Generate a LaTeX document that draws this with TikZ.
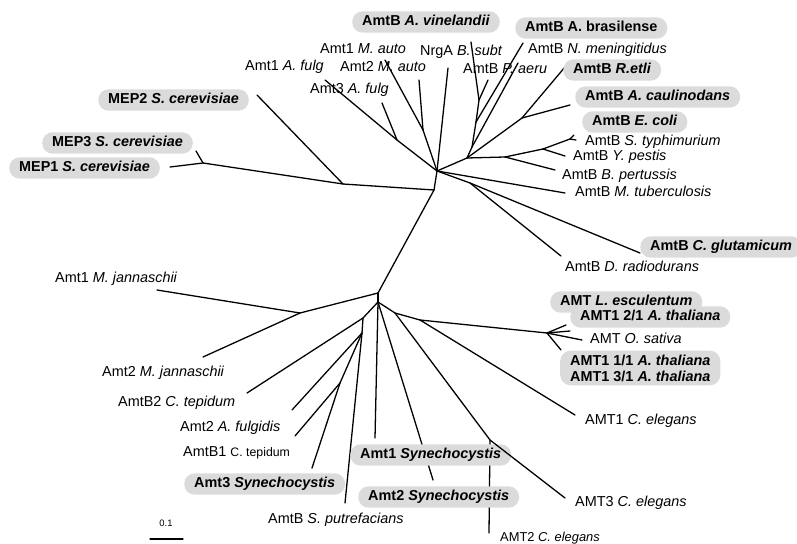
\documentclass[tikz,border=0pt]{standalone}
\usepackage{fontspec}
\setmainfont{Liberation Sans}
\tikzstyle{branch} = [draw,line width=1.1pt,line cap=round,line join=round]
\tikzstyle{leaf} = [anchor=west,inner sep=0pt,text height=9pt,text depth=2.5pt,font=\fontsize{12.3}{14}\selectfont]
\tikzstyle{boxleaf} = [leaf,fill=black!14,rounded corners=9pt,inner xsep=0.3cm,inner ysep=3.4pt,font=\fontsize{12.3}{14}\selectfont\bfseries]
\tikzstyle{boxpair} = [anchor=west,fill=black!14,rounded corners=9pt,inner xsep=0.3cm,inner ysep=3.4pt,align=left,font=\fontsize{12.3}{13.6}\selectfont\bfseries]

\begin{document}
\begin{tikzpicture}[x=0.03cm,y=-0.03cm]
    \useasboundingbox (0,0) rectangle (797,544);

    % inner nodes of the tree
    \foreach \pos/ \name in {{(434,190)/u0},{(437,171)/u1},{(343,184)/mepa},{(203,163)/mepb},{(397,140)/fulg},{(423,130)/auto},
        {(479,100)/vin},{(476,122)/bra},{(472,147)/men},{(467,158)/r1},{(522,118)/caul},{(505,157)/pert},{(543,149)/yps},
        {(570,139)/typh},{(470,183)/cglu},{(378,293)/l0},{(300,313)/jan},{(378,302)/l1},{(363,318)/l2},{(362,333)/l3},
        {(340,383)/l4},{(395,313)/l5},{(420,320)/l6},{(547,333)/plant},{(490,440)/cel}}
        \node[coordinate] (\name) at \pos {};

    % leaf tips
    \foreach \pos/ \name in {{(170,167)/tmep1},{(196,151)/tmep3},{(257,95)/tmep2},{(325,80)/tfulg1},{(382,103)/tfulg3},
        {(385,60)/tauto1},{(419,80)/tauto2},{(448,68)/tnrga},{(471,42)/tvin},{(488,80)/taeru},{(523,43)/tbra},{(518,63)/tmen},
        {(565,67)/tetli},{(570,105)/tcaul},{(574,135)/ttypha},{(576,140)/ttyphb},{(565,156)/typs},{(555,170)/tpert},
        {(565,193)/tmtub},{(640,253)/tcglu},{(561,256)/tdrad},{(157,290)/tjan1},{(203,357)/tjan2},{(247,393)/ttep2},
        {(292,410)/tfulgi},{(345,503)/tspu},{(295,436)/ttep1},{(312,468)/tsyn3},{(375,438)/tsyn1},{(433,480)/tsyn2},
        {(575,415)/tcel1},{(565,498)/tcel3},{(489,533)/tcel2},{(566,325)/tesc},{(570,331)/tth2},{(582,340)/tosa},{(561,350)/tth1}}
        \node[coordinate] (\name) at \pos {};

    % branches
    \foreach \source/ \dest in {u0/u1, u0/mepa, u0/l0, mepa/mepb, mepa/tmep2, mepb/tmep1, mepb/tmep3,
        u1/fulg, fulg/tfulg1, fulg/tfulg3, u1/auto, auto/tauto1, auto/tauto2, u1/tnrga,
        u1/r1, r1/men, men/bra, men/tmen, bra/vin, bra/tbra, vin/tvin, vin/taeru,
        r1/caul, caul/tetli, caul/tcaul, r1/pert, pert/tpert, pert/yps, yps/typs, yps/typh, typh/ttypha, typh/ttyphb,
        u1/tmtub, u1/cglu, cglu/tcglu, cglu/tdrad,
        l0/jan, jan/tjan1, jan/tjan2, l0/l1, l1/l2, l2/ttep2, l2/l3, l3/tfulgi, l3/tspu, l3/l4, l4/ttep1, l4/tsyn3,
        l1/tsyn1, l1/tsyn2, l1/l5, l5/l6, l6/tcel1, l6/plant, plant/tesc, plant/tth2, plant/tosa, plant/tth1, cel/tcel2}
        \path[branch] (\source) -- (\dest);

    % plain labels
    \foreach \pos/ \name/ \txt in {{(245,67)/lfulg1/{Amt1 \textit{A. fulg}}},{(320,50)/lauto1/{Amt1 \textit{M. auto}}},
        {(340,68)/lauto2/{Amt2 \textit{M. auto}}},{(310,90)/lfulg3/{Amt3 \textit{A. fulg}}},{(420,52)/lnrga/{NrgA \textit{B. subt}}},
        {(463,70)/laeru/{AmtB \textit{P. aeru}}},{(528,50)/lmen/{AmtB \textit{N. meningitidus}}},
        {(585,142)/ltyph/{AmtB \textit{S. typhimurium}}},{(573,157)/lyps/{AmtB \textit{Y. pestis}}},
        {(562,176)/lpert/{AmtB \textit{B. pertussis}}},{(575,193)/lmtub/{AmtB \textit{M. tuberculosis}}},
        {(565,268)/ldrad/{AmtB \textit{D. radiodurans}}},{(590,340)/losa/{AMT \textit{O. sativa}}},
        {(585,421)/lcel1/{AMT1 \textit{C. elegans}}},{(575,503)/lcel3/{AMT3 \textit{C. elegans}}},
        {(268,520)/lspu/{AmtB \textit{S. putrefacians}}},{(180,428)/lfulgi/{Amt2 \textit{A. fulgidis}}},
        {(118,403)/ltep2/{AmtB2 \textit{C. tepidum}}},{(102,373)/ljan2/{Amt2 \textit{M. jannaschii}}},
        {(55,279)/ljan1/{Amt1 \textit{M. jannaschii}}}}
        \node[leaf] (\name) at \pos {\txt};
    \node[leaf] (ltep1) at (183,453) {AmtB1 {\fontsize{10.5}{12}\selectfont C. tepidum}};
    \node[leaf,font=\fontsize{11}{13}\selectfont] (lcel2) at (500,538) {AMT2 \textit{C. elegans}};

    % highlighted labels
    \node[boxleaf] (lmep2) at (98,100) {MEP2 \textit{S. cerevisiae}};
    \node[boxleaf] (lmep3) at (42,143) {MEP3 \textit{S. cerevisiae}};
    \node[boxleaf] (lmep1) at (9,168) {MEP1 \textit{S. cerevisiae}};
    \node[boxleaf] (lvin) at (352,22) {AmtB \textit{A. vinelandii}};
    \node[boxleaf] (lbra) at (515,28) {AmtB A. brasilense};
    \node[boxleaf] (letli) at (563,70) {AmtB \textit{R.etli}};
    \node[boxleaf] (lcaul) at (575,97) {AmtB \textit{A. caulinodans}};
    \node[boxleaf] (lecoli) at (582,122) {AmtB \textit{E. coli}};
    \node[boxleaf] (lcglu) at (640,247) {AmtB \textit{C. glutamicum}};
    \node[boxleaf] (lesc) at (550,302) {AMT \textit{L. esculentum}};
    \node[boxleaf] (lth2) at (570,317) {AMT1 2/1 \textit{A. thaliana}};
    \node[boxpair] (lth13) at (560,368) {AMT1 1/1 \textit{A. thaliana}\\AMT1 3/1 \textit{A. thaliana}};
    \node[boxleaf] (lsyn1) at (350,455) {Amt1 \textit{Synechocystis}};
    \node[boxleaf] (lsyn2) at (358,497) {Amt2 \textit{Synechocystis}};
    \node[boxleaf] (lsyn3) at (184,484) {Amt3 \textit{Synechocystis}};

    % nematode branch lies over the box
    \path[branch] (l5) -- (cel) -- (tcel3);

    % scale bar
    \coordinate (sbl) at (150,539);
    \coordinate (sbr) at (183,539);
    \path[branch] (sbl) -- (sbr);
    \node[font=\fontsize{8}{10}\selectfont,inner sep=0pt] (sblabel) at (166,523) {0.1};
\end{tikzpicture}
\end{document}
